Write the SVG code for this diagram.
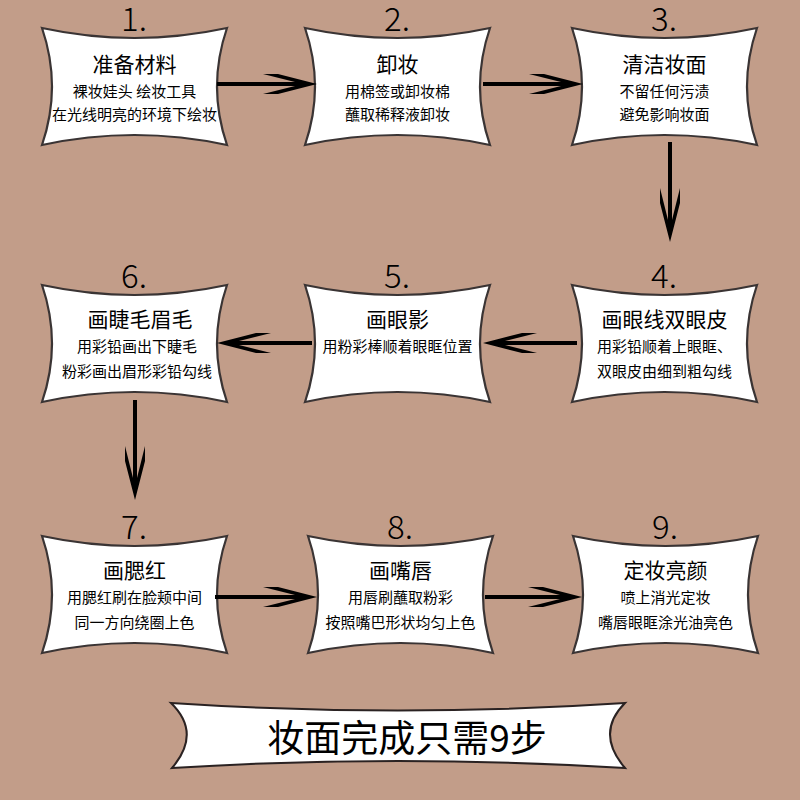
<svg xmlns="http://www.w3.org/2000/svg" xmlns:xlink="http://www.w3.org/1999/xlink" width="800" height="800" viewBox="0 0 800 800">
<defs>
<style>
.card{fill:#fff;stroke:#3a3434;stroke-width:2.2;stroke-linejoin:miter}
text{font-family:"Noto Sans CJK SC","Noto Sans",sans-serif;fill:#000;text-anchor:middle}
.num{font-size:33px;font-weight:300}
.t{font-size:21px}
.s{font-size:15px}
.ln{stroke:#000;stroke-width:4;fill:none}
.hd{fill:#000}
</style>
<path id="cardshape" d="M0,0 Q92.5,20 185,0 Q165,58.5 185,117 Q92.5,97 0,117 Q20,58.5 0,0 Z"/>
<path id="head" d="M0,0 L-39,-10 L-54,-10 L-20,-1.5 L-20,1.5 L-54,10 L-39,10 Z"/>
</defs>
<rect width="800" height="800" fill="#C29D89"/>

<g id="node1" transform="translate(42,28)">
<use xlink:href="#cardshape" class="card"/>
<text class="num" x="92" y="3">1.</text>
<text class="t" x="92.5" y="44">准备材料</text>
<text class="s" x="92.5" y="69">裸妆娃头 绘妆工具</text>
<text class="s" x="92.5" y="92">在光线明亮的环境下绘妆</text>
</g>
<g id="node2" transform="translate(305,28)">
<use xlink:href="#cardshape" class="card"/>
<text class="num" x="92" y="3">2.</text>
<text class="t" x="92.5" y="44">卸妆</text>
<text class="s" x="92.5" y="69">用棉签或卸妆棉</text>
<text class="s" x="92.5" y="92">蘸取稀释液卸妆</text>
</g>
<g id="node3" transform="translate(572,28)">
<use xlink:href="#cardshape" class="card"/>
<text class="num" x="92" y="3">3.</text>
<text class="t" x="92.5" y="44">清洁妆面</text>
<text class="s" x="92.5" y="69">不留任何污渍</text>
<text class="s" x="92.5" y="92">避免影响妆面</text>
</g>
<g id="node4" transform="translate(572,285)">
<use xlink:href="#cardshape" class="card"/>
<text class="num" x="92" y="3">4.</text>
<text class="t" x="92.5" y="42">画眼线双眼皮</text>
<text class="s" x="92.5" y="67">用彩铅顺着上眼眶、</text>
<text class="s" x="92.5" y="92">双眼皮由细到粗勾线</text>
</g>
<g id="node5" transform="translate(305,285)">
<use xlink:href="#cardshape" class="card"/>
<text class="num" x="92" y="3">5.</text>
<text class="t" x="92.5" y="42">画眼影</text>
<text class="s" x="92.5" y="67">用粉彩棒顺着眼眶位置</text>
</g>
<g id="node6" transform="translate(42,285)">
<use xlink:href="#cardshape" class="card"/>
<text class="num" x="92" y="3">6.</text>
<text class="t" x="98" y="42">画睫毛眉毛</text>
<text class="s" x="95" y="67">用彩铅画出下睫毛</text>
<text class="s" x="95" y="92">粉彩画出眉形彩铅勾线</text>
</g>
<g id="node7" transform="translate(42,536)">
<use xlink:href="#cardshape" class="card"/>
<text class="num" x="92" y="3">7.</text>
<text class="t" x="92.5" y="42">画腮红</text>
<text class="s" x="92.5" y="67">用腮红刷在脸颊中间</text>
<text class="s" x="92.5" y="92">同一方向绕圈上色</text>
</g>
<g id="node8" transform="translate(308,536)">
<use xlink:href="#cardshape" class="card"/>
<text class="num" x="92" y="3">8.</text>
<text class="t" x="92.5" y="42">画嘴唇</text>
<text class="s" x="92.5" y="67">用唇刷蘸取粉彩</text>
<text class="s" x="92.5" y="92">按照嘴巴形状均匀上色</text>
</g>
<g id="node9" transform="translate(573,536)">
<use xlink:href="#cardshape" class="card"/>
<text class="num" x="92" y="3">9.</text>
<text class="t" x="92.5" y="42">定妆亮颜</text>
<text class="s" x="92.5" y="67">喷上消光定妆</text>
<text class="s" x="92.5" y="92">嘴唇眼眶涂光油亮色</text>
</g>

<g id="connectors">
<line class="ln" x1="217" y1="84" x2="300" y2="84"/>
<use xlink:href="#head" class="hd" transform="translate(317,84)"/>
<line class="ln" x1="483" y1="84" x2="566" y2="84"/>
<use xlink:href="#head" class="hd" transform="translate(583,84)"/>
<line class="ln" x1="670" y1="142" x2="670" y2="225"/>
<use xlink:href="#head" class="hd" transform="translate(670,242) rotate(90)"/>
<line class="ln" x1="577" y1="343" x2="500" y2="343"/>
<use xlink:href="#head" class="hd" transform="translate(483,343) rotate(180)"/>
<line class="ln" x1="312" y1="343" x2="234" y2="343"/>
<use xlink:href="#head" class="hd" transform="translate(217,343) rotate(180)"/>
<line class="ln" x1="135" y1="400" x2="135" y2="483"/>
<use xlink:href="#head" class="hd" transform="translate(135,500) rotate(90)"/>
<line class="ln" x1="215" y1="597" x2="300" y2="597"/>
<use xlink:href="#head" class="hd" transform="translate(317,597)"/>
<line class="ln" x1="485" y1="597" x2="565" y2="597"/>
<use xlink:href="#head" class="hd" transform="translate(582,597)"/>
</g>

<g id="banner">
<path d="M171,703 Q398,718 625,703 Q595,733 625,768 Q398,754 172,768 Q202,733 171,703 Z" fill="#fff" stroke="#2a2222" stroke-width="2"/>
<text x="407" y="752" style="font-size:37px">妆面完成只需9步</text>
</g>
</svg>
